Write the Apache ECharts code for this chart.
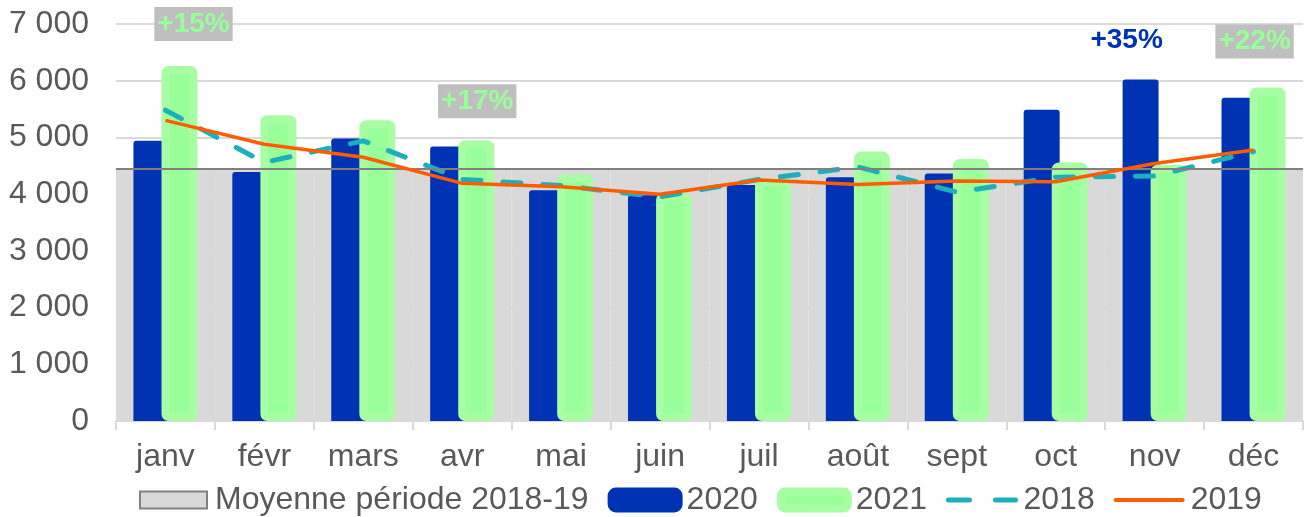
<!DOCTYPE html>
<html>
<head>
<meta charset="utf-8">
<script src="https://cdn.jsdelivr.net/npm/echarts@6/dist/echarts.min.js"></script>
<style>
  html, body { margin: 0; padding: 0; background: #fff; }
  #chart { width: 1310px; height: 517px; }
</style>
</head>
<body>
<div id="chart"></div>
<script>
const months = ['janv', 'févr', 'mars', 'avr', 'mai', 'juin', 'juil', 'août', 'sept', 'oct', 'nov', 'déc']

// valeurs
const avg1819 = [4440, 4440, 4440, 4440, 4440, 4440, 4440, 4440, 4440, 4440, 4440, 4440]
const v2020 = [4940, 4390, 4980, 4840, 4070, 3980, 4160, 4300, 4365, 5490, 6020, 5700]
const v2021 = [6260, 5390, 5305, 4950, 4350, 4020, 4280, 4750, 4620, 4560, 4520, 5880]
const v2018 = [5480, 4560, 4940, 4260, 4150, 3950, 4260, 4480, 4035, 4300, 4320, 4750]
const v2019 = [5300, 4880, 4650, 4190, 4130, 4000, 4250, 4170, 4230, 4220, 4540, 4780]

const labels2020 = ['', '', '', '', '', '', '', '', '', '', '+35%', '']
const labels2021 = ['+15%', '', '', '+17%', '', '', '', '', '', '', '', '+22%']

const yTickLabels = ['0', '1 000', '2 000', '3 000', '4 000', '5 000', '6 000', '7 000']

// placement des étiquettes : [décalage x, distance au-dessus de la barre]
const place2020 = { 10: [-14, 25] }
const place2021 = { 0: [14, 25], 3: [1, 22], 11: [-13, 29] }

const FONT = "'Liberation Sans', Arial, sans-serif"
const GREY_TXT = '#595959'
const BLUE = '#0032b4'
const GREEN = '#99ff99'
const GREEN_EDGE = '#a8ffa3'
const TEAL = '#1ab0bc'
const ORANGE = '#ff5b00'

function barData(values, labels, place, labelStyle) {
  return values.map((v, i) => {
    if (!labels[i]) return v
    return {
      value: v,
      label: {
        show: true,
        position: 'top',
        formatter: labels[i],
        distance: place[i][1],
        offset: [place[i][0], 0],
        fontFamily: FONT,
        fontSize: 28,
        fontWeight: 'bold',
        ...labelStyle
      }
    }
  })
}

const chart = echarts.init(document.getElementById('chart'))

chart.setOption({
  backgroundColor: '#ffffff',
  animation: false,

  grid: {
    left: 116,
    right: 7,
    top: 24,
    bottom: 96
  },

  legend: {
    left: 139,
    top: 484,
    padding: 0,
    itemWidth: 67,
    itemHeight: 17,
    itemGap: 19,
    textStyle: {
      color: GREY_TXT,
      fontSize: 32,
      fontFamily: FONT,
      padding: [0, 0, 0, 3]
    },
    data: [
      { name: 'Moyenne période 2018-19', icon: 'rect', itemStyle: { borderColor: '#808080', borderWidth: 2 } },
      { name: '2020', itemStyle: { borderColor: BLUE, borderWidth: 8 } },
      { name: '2021', itemStyle: { borderColor: GREEN_EDGE, borderWidth: 8 } },
      { name: '2018', itemStyle: { opacity: 0, borderWidth: 0 }, lineStyle: { width: 5, type: [21, 26], cap: 'round' } },
      { name: '2019', itemStyle: { opacity: 0, borderWidth: 0 }, lineStyle: { width: 4, cap: 'round' } }
    ]
  },

  xAxis: [
    {
      type: 'category',
      data: months,
      axisLine: { lineStyle: { color: '#d9d9d9', width: 2 } },
      axisTick: { show: true, length: 9, lineStyle: { color: '#d9d9d9', width: 2 } },
      axisLabel: { color: GREY_TXT, fontSize: 32, fontFamily: FONT, margin: 20 },
      splitLine: { show: false }
    },
    {
      type: 'category',
      data: months,
      show: false
    }
  ],

  yAxis: {
    type: 'value',
    min: 0,
    max: 7000,
    interval: 1000,
    axisLine: { show: false },
    axisTick: { show: false },
    axisLabel: {
      color: GREY_TXT,
      fontSize: 32,
      fontFamily: FONT,
      margin: 27,
      formatter: (v) => yTickLabels[Math.round(v / 1000)]
    },
    splitLine: { lineStyle: { color: '#d9d9d9', width: 2 } }
  },

  series: [
    {
      name: 'Moyenne période 2018-19',
      type: 'bar',
      xAxisIndex: 1,
      barWidth: '100%',
      z: 1,
      itemStyle: { color: '#d9d9d9', borderColor: '#d9d9d9', borderWidth: 1 },
      markLine: {
        silent: true,
        symbol: 'none',
        label: { show: false },
        lineStyle: { color: '#808080', width: 2, type: 'solid' },
        data: [{ type: 'average' }]
      },
      data: avg1819
    },
    {
      name: '2020',
      type: 'bar',
      barWidth: 36,
      barGap: '-22%',
      z: 2,
      itemStyle: { color: BLUE, borderRadius: [3, 3, 0, 0] },
      data: barData(v2020, labels2020, place2020, { color: BLUE })
    },
    {
      name: '2021',
      type: 'bar',
      barWidth: 36,
      barGap: '-22%',
      z: 3,
      itemStyle: { color: GREEN, borderColor: GREEN_EDGE, borderWidth: 8, borderRadius: 3 },
      data: barData(v2021, labels2021, place2021, {
        color: GREEN,
        backgroundColor: '#bfbfbf',
        padding: [3, 3, 3, 3]
      })
    },
    {
      name: '2018',
      type: 'line',
      symbol: 'none',
      z: 4,
      lineStyle: { color: TEAL, width: 5, type: [18, 22], cap: 'round' },
      itemStyle: { color: TEAL },
      data: v2018
    },
    {
      name: '2019',
      type: 'line',
      symbol: 'none',
      z: 5,
      lineStyle: { color: ORANGE, width: 3.5 },
      itemStyle: { color: ORANGE },
      data: v2019
    }
  ]
})
</script>
</body>
</html>
